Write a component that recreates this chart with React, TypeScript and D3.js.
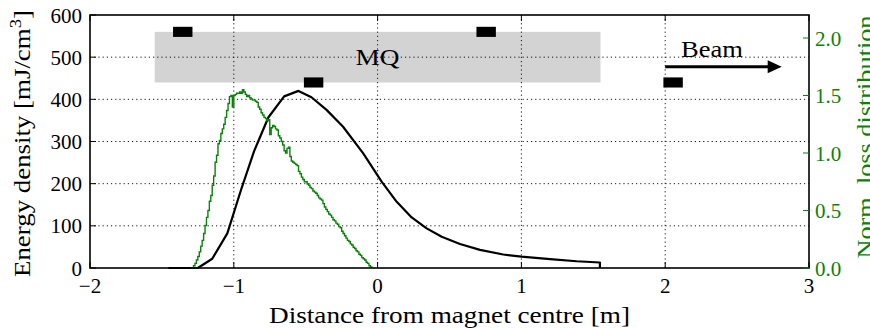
import React from "react";
import * as d3 from "d3";

// Energy density (black curve): position [m] and value [mJ/cm^3]
const energyX = [-1.455, -1.25, -1.15, -1.045, -0.95, -0.86, -0.76, -0.65, -0.55, -0.46, -0.355, -0.24, -0.1, 0.028, 0.133, 0.237, 0.341, 0.446, 0.573, 0.712, 0.874, 1.0, 1.199, 1.385, 1.546, 1.546];
const energyY = [0, 0, 22, 82, 185, 276, 357, 407, 420, 405, 375, 335, 272, 205, 157, 120, 94, 74, 57, 43, 32, 27, 21, 16, 13, 0];

// Normalised loss distribution (green histogram), bins of 0.01 m starting at -1.30 m
const lossBinStart = -1.3;
const lossBinWidth = 0.01;
const lossValues = [
  0, 0, 0.02, 0.04, 0.07, 0.1, 0.14, 0.19, 0.24, 0.3,
  0.37, 0.44, 0.5, 0.58, 0.63, 0.72, 0.8, 0.92, 0.98, 1.08,
  1.11, 1.17, 1.21, 1.25, 1.31, 1.37, 1.43, 1.49, 1.5, 1.4,
  1.5, 1.51, 1.52, 1.52, 1.53, 1.52, 1.55, 1.53, 1.51, 1.49,
  1.5, 1.48, 1.47, 1.46, 1.46, 1.45, 1.44, 1.4, 1.38, 1.35,
  1.33, 1.31, 1.3, 1.28, 1.29, 1.16, 1.22, 1.24, 1.23, 1.21,
  1.2, 1.15, 1.13, 1.1, 1.07, 1.02, 1.0, 1.04, 1.05, 0.97,
  0.93, 0.92, 0.91, 0.9, 0.89, 0.84, 0.82, 0.79, 0.77, 0.75,
  0.75, 0.73, 0.72, 0.7, 0.69, 0.67, 0.66, 0.65, 0.63, 0.61,
  0.6, 0.59, 0.56, 0.53, 0.51, 0.49, 0.47, 0.46, 0.44, 0.42,
  0.41, 0.39, 0.38, 0.36, 0.35, 0.32, 0.3, 0.28, 0.26, 0.24,
  0.23, 0.21, 0.2, 0.18, 0.17, 0.15, 0.14, 0.12, 0.11, 0.09,
  0.08, 0.07, 0.05, 0.04, 0.02, 0.01, 0,
];

// Magnet (MQ) body and coil markers
const magnetX = [-1.55, 1.55];
const magnetY = [440, 560];
const markerCenters = [-1.355, 0.755, -0.445, 2.055];
const markerLevels = [560, 560, 440, 440];
const markerWidth = 0.135;
const markerHeight = 24;

// Axis ticks
const xTicks = [-2, -1, 0, 1, 2, 3];
const yTicks = [0, 100, 200, 300, 400, 500, 600];
const y2Ticks = [0, 0.5, 1.0, 1.5, 2.0];

// Annotations
const beamArrowX = [2.0, 2.81];
const beamArrowY = 477;
const beamLabelPos = [2.11, 500];
const mqLabelPos = [0, 481];

const W = 870;
const H = 329;
const M = { left: 90, right: 61, top: 15, bottom: 61 };
const FONT = "'Times New Roman', 'Liberation Serif', Tinos, Times, serif";
const GREEN = "#0a820a";
const TICK_FS = 21;

export default function App() {
  const x = d3.scaleLinear().domain([-2, 3]).range([M.left, W - M.right]);
  const y = d3.scaleLinear().domain([0, 600]).range([H - M.bottom, M.top]);
  const y2 = d3.scaleLinear().domain([0, 2.2]).range([H - M.bottom, M.top]);

  const energyPts: [number, number][] = energyX.map((v, i) => [v, energyY[i]]);
  const energyLine = d3
    .line<[number, number]>()
    .x((d) => x(d[0]))
    .y((d) => y(d[1]))(energyPts);

  const lossPts: [number, number][] = lossValues.map((v, i) => [lossBinStart + i * lossBinWidth, v]);
  const lossLine = d3
    .line<[number, number]>()
    .curve(d3.curveStepAfter)
    .x((d) => x(d[0]))
    .y((d) => y2(d[1]))(lossPts);

  const x0 = x.range()[0];
  const x1 = x.range()[1];
  const yb = y.range()[0];
  const yt = y.range()[1];
  const fmtMinus = (v: number) => (v < 0 ? "\u2212" + Math.abs(v) : String(v));

  const arrowEnd = x(beamArrowX[1]);
  const ay = y(beamArrowY);
  const tf = { fontFamily: FONT };

  return (
    <svg width={W} height={H} style={{ position: "absolute", left: 0, top: 0, background: "#fff", fontFamily: FONT }}>
      {/* magnet body */}
      <rect
        x={x(magnetX[0])}
        y={y(magnetY[1])}
        width={x(magnetX[1]) - x(magnetX[0])}
        height={y(magnetY[0]) - y(magnetY[1])}
        fill="#d3d3d3"
      />
      {/* grid */}
      <g stroke="#000" strokeWidth={0.9} strokeDasharray="1.2,3">
        {xTicks.slice(1, -1).map((t) => (
          <line key={"gx" + t} x1={x(t)} x2={x(t)} y1={yb} y2={yt} />
        ))}
        {yTicks.slice(1, -1).map((t) => (
          <line key={"gy" + t} x1={x0} x2={x1} y1={y(t)} y2={y(t)} />
        ))}
      </g>
      <text style={tf} x={x(mqLabelPos[0])} y={y(mqLabelPos[1])} fontSize={24} textAnchor="middle" textLength={44} lengthAdjust="spacingAndGlyphs">
        MQ
      </text>
      {markerCenters.map((c, i) => (
        <rect
          key={"m" + i}
          x={x(c - markerWidth / 2)}
          y={y(markerLevels[i] + markerHeight / 2)}
          width={x(c + markerWidth / 2) - x(c - markerWidth / 2)}
          height={y(markerLevels[i] - markerHeight / 2) - y(markerLevels[i] + markerHeight / 2)}
          fill="#000"
        />
      ))}
      {/* beam arrow */}
      <line x1={x(beamArrowX[0])} x2={arrowEnd - 10} y1={ay} y2={ay} stroke="#000" strokeWidth={3} />
      <path d={`M${arrowEnd},${ay} L${arrowEnd - 14},${ay - 6.5} L${arrowEnd - 14},${ay + 6.5} Z`} fill="#000" />
      <text style={tf} x={x(beamLabelPos[0])} y={y(beamLabelPos[1])} fontSize={23} textLength={62} lengthAdjust="spacingAndGlyphs">
        Beam
      </text>
      {/* curves */}
      <path d={energyLine || ""} fill="none" stroke="#000" strokeWidth={2.2} strokeLinejoin="round" />
      <path d={lossLine || ""} fill="none" stroke={GREEN} strokeWidth={1.4} />
      {/* frame */}
      <rect x={x0} y={yt} width={x1 - x0} height={yb - yt} fill="none" stroke="#000" strokeWidth={1.6} />
      {/* ticks */}
      <g stroke="#000" strokeWidth={1}>
        {xTicks.map((t) => (
          <g key={"xt" + t}>
            <line x1={x(t)} x2={x(t)} y1={yb} y2={yb - 6} />
            <line x1={x(t)} x2={x(t)} y1={yt} y2={yt + 6} />
          </g>
        ))}
        {yTicks.map((t) => (
          <line key={"yt" + t} x1={x0} x2={x0 + 6} y1={y(t)} y2={y(t)} />
        ))}
      </g>
      <g stroke={GREEN} strokeWidth={1}>
        {y2Ticks.map((t) => (
          <line key={"y2t" + t} x1={x1} x2={x1 - 6} y1={y2(t)} y2={y2(t)} />
        ))}
      </g>
      {/* tick labels */}
      <g fontSize={TICK_FS} fill="#000">
        {xTicks.map((t) => (
          <text style={tf} key={"xl" + t} x={x(t)} y={yb + 25} textAnchor="middle">
            {fmtMinus(t)}
          </text>
        ))}
        {yTicks.map((t) => (
          <text style={tf} key={"yl" + t} x={x0 - 8} y={y(t) + 7.5} textAnchor="end">
            {t}
          </text>
        ))}
      </g>
      <g fontSize={TICK_FS} fill={GREEN}>
        {y2Ticks.map((t) => (
          <text style={tf} key={"y2l" + t} x={x1 + 6} y={y2(t) + 7.5}>
            {t.toFixed(1)}
          </text>
        ))}
      </g>
      {/* axis labels */}
      <text style={tf} x={(x0 + x1) / 2} y={H - 6} fontSize={23} textAnchor="middle" textLength={361} lengthAdjust="spacingAndGlyphs">
        Distance from magnet centre [m]
      </text>
      <text
        style={tf}
        transform={`translate(30,143.5) rotate(-90)`}
        fontSize={23}
        textAnchor="middle"
        textLength={267}
        lengthAdjust="spacingAndGlyphs"
      >
        Energy density [mJ/cm<tspan dy={-9} fontSize={16}>3</tspan><tspan dy={9}>]</tspan>
      </text>
      <text
        style={tf}
        transform={`translate(873,137) rotate(-90)`}
        fontSize={23}
        textAnchor="middle"
        fill={GREEN}
        textLength={243}
        lengthAdjust="spacingAndGlyphs"
      >
        Norm. loss distribution
      </text>
    </svg>
  );
}
